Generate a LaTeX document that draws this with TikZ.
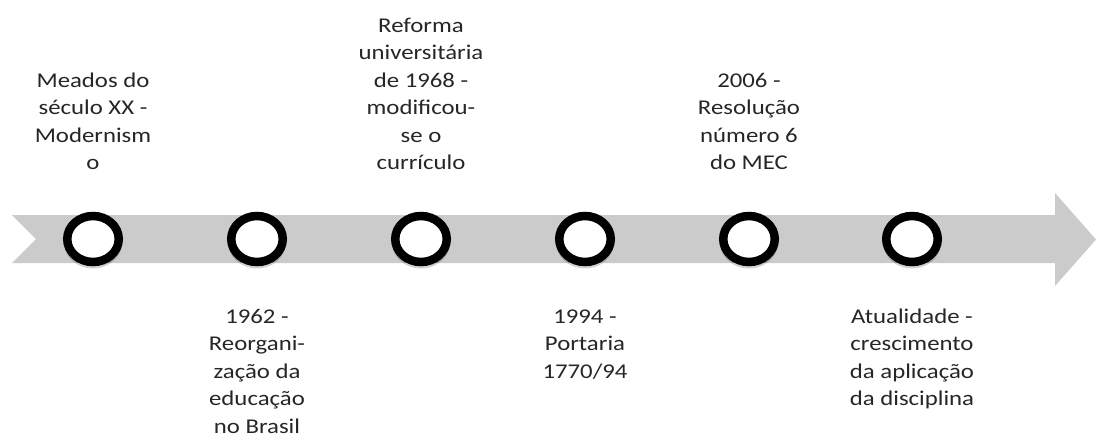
\documentclass[tikz,border=0pt]{standalone}
\usepackage{fontspec}
\setmainfont{Carlito}[FakeStretch=1.18]
\usetikzlibrary{shapes.geometric}
\definecolor{bandgray}{HTML}{CBCBCB}
\tikzset{
  band/.style={fill=bandgray, draw=none},
  ring/.style={ellipse, draw=black, line width=8.5pt, fill=white, minimum width=51.5pt, minimum height=46pt, inner sep=0pt},
  ringshadow/.style={ellipse, fill=black, opacity=0.18, draw=none, minimum width=58pt, minimum height=52pt, inner sep=0pt},
  lbl/.style={align=center, font=\fontsize{21}{27.5}\selectfont, inner sep=0pt, text=black!85},
  toplbl/.style={lbl, anchor=south},
  botlbl/.style={lbl, anchor=north}
}
\begin{document}
\begin{tikzpicture}[x=1pt,y=-1pt]
\useasboundingbox (0,0) rectangle (1096,434);
% arrow band
\fill[band] (12,215) -- (1055,215) -- (1055,193) -- (1096,239.5) -- (1055,286) -- (1055,263) -- (12,263) -- (36,239) -- cycle;
% circles
\foreach \i/\x in {1/93,2/257,3/421,4/585,5/749,6/912}{
  \node[ringshadow] at (\x,242.5) {};
  \node[ring] (c\i) at (\x,239) {};
}
% top labels (last baseline at y=170)
\node[toplbl] (t1) at (c1 |- 0,178.25) {Meados do\\século XX -\\Modernism\\o\strut};
\node[toplbl] (t3) at (c3 |- 0,178.25) {Reforma\\universitária\\de 1968 -\\modificou-\\se o\\currículo\strut};
\node[toplbl] (t5) at (c5 |- 0,178.25) {2006 -\\Resolução\\número 6\\do MEC\strut};
% bottom labels (first baseline at y=323)
\node[botlbl] (b2) at (c2 |- 0,303.75) {\strut 1962 -\\Reorgani-\\zação da\\educação\\no Brasil};
\node[botlbl] (b4) at (c4 |- 0,303.75) {\strut 1994 -\\Portaria\\1770/94};
\node[botlbl] (b6) at (c6 |- 0,303.75) {\strut Atualidade -\\crescimento\\da aplicação\\da disciplina};
\end{tikzpicture}
\end{document}
